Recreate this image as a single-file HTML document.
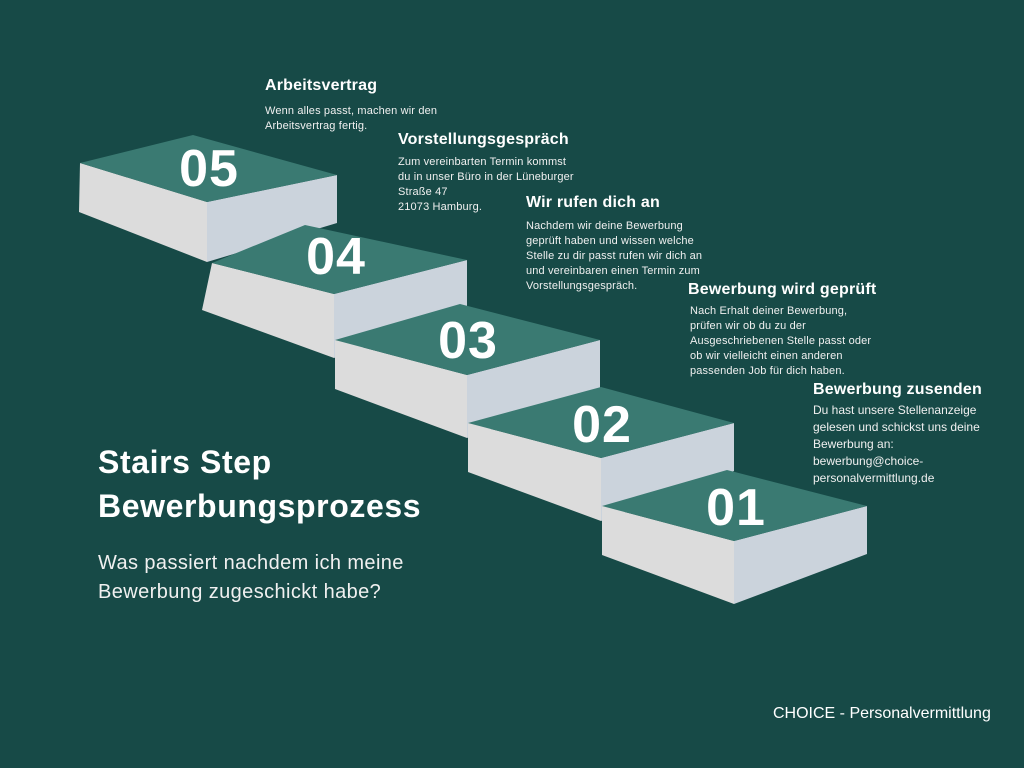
<!DOCTYPE html>
<html><head><meta charset="utf-8"><style>
html,body{margin:0;padding:0}
body{width:1024px;height:768px;background:#174a47;position:relative;overflow:hidden;font-family:"Liberation Sans",sans-serif;color:#fff}
.t{position:absolute;}
.h{font-weight:bold;font-size:16px;white-space:nowrap;letter-spacing:0.2px}
.p{font-size:11px;line-height:15px;color:#f0f0f0;letter-spacing:0.15px;white-space:nowrap}
</style></head><body>
<svg width="1024" height="768" style="position:absolute;left:0;top:0">
<polygon points="80,163 207,202 207,262 79,212" fill="#dcdcdc"/>
<polygon points="207,202 337,175 337,223 207,262" fill="#cbd3dc"/>
<polygon points="80,163 193,135 337,175 207,202" fill="#3a7a72"/>
<polygon points="212,263 334,294 334,358 202,310" fill="#dcdcdc"/>
<polygon points="334,294 467,260 467,310 334,358" fill="#cbd3dc"/>
<polygon points="212,263 305,225 467,260 334,294" fill="#3a7a72"/>
<polygon points="335,340 467,375 467,438 335,389" fill="#dcdcdc"/>
<polygon points="467,375 600,340 600,388 467,438" fill="#cbd3dc"/>
<polygon points="335,340 460,304 600,340 467,375" fill="#3a7a72"/>
<polygon points="468,423 601,458 601,521 468,472" fill="#dcdcdc"/>
<polygon points="601,458 734,423 734,471 601,521" fill="#cbd3dc"/>
<polygon points="468,423 601,387 734,423 601,458" fill="#3a7a72"/>
<polygon points="602,506 734,541 734,604 602,555" fill="#dcdcdc"/>
<polygon points="734,541 867,506 867,554 734,604" fill="#cbd3dc"/>
<polygon points="602,506 727,470 867,506 734,541" fill="#3a7a72"/>
<g font-family="Liberation Sans,sans-serif" font-weight="bold" font-size="52" fill="#fff" text-anchor="middle" letter-spacing="1">
<text x="209" y="186">05</text>
<text x="336" y="274">04</text>
<text x="468" y="358">03</text>
<text x="602" y="442">02</text>
<text x="736" y="525">01</text>
</g>
</svg>

<div class="t h" style="left:265px;top:77px">Arbeitsvertrag</div>
<div class="t p" style="left:265px;top:104px">Wenn alles passt, machen wir den<br>Arbeitsvertrag fertig.</div>

<div class="t h" style="left:398px;top:131px">Vorstellungsgespräch</div>
<div class="t p" style="left:398px;top:155px">Zum vereinbarten Termin kommst<br>du in unser Büro in der Lüneburger<br>Straße 47<br>21073 Hamburg.</div>

<div class="t h" style="left:526px;top:194px">Wir rufen dich an</div>
<div class="t p" style="left:526px;top:219px">Nachdem wir deine Bewerbung<br>geprüft haben und wissen welche<br>Stelle zu dir passt rufen wir dich an<br>und vereinbaren einen Termin zum<br>Vorstellungsgespräch.</div>

<div class="t h" style="left:688px;top:281px">Bewerbung wird geprüft</div>
<div class="t p" style="left:690px;top:304px">Nach Erhalt deiner Bewerbung,<br>prüfen wir ob du zu der<br>Ausgeschriebenen Stelle passt oder<br>ob wir vielleicht einen anderen<br>passenden Job für dich haben.</div>

<div class="t h" style="left:813px;top:381px">Bewerbung zusenden</div>
<div class="t p" style="left:813px;top:402px;font-size:12px;line-height:17px;letter-spacing:0">Du hast unsere Stellenanzeige<br>gelesen und schickst uns deine<br>Bewerbung an:<br>bewerbung@choice-<br>personalvermittlung.de</div>

<div class="t" style="left:98px;top:440px;font-size:32px;font-weight:bold;line-height:44px;letter-spacing:0.6px;white-space:nowrap">Stairs Step<br>Bewerbungsprozess</div>
<div class="t" style="left:98px;top:549px;font-size:20px;line-height:29px;color:#f0f0f0;letter-spacing:0.4px;white-space:nowrap">Was passiert nachdem ich meine<br>Bewerbung zugeschickt habe?</div>

<div class="t" style="left:773px;top:705px;font-size:16px;white-space:nowrap">CHOICE - Personalvermittlung</div>
</body></html>
